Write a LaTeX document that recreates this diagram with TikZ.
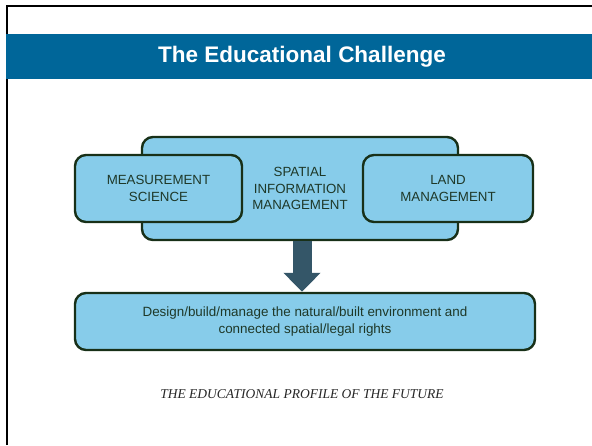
\documentclass[tikz,border=0pt]{standalone}
\usepackage{fontspec}
\setmainfont{Liberation Serif}
\newfontfamily\arialfont{Liberation Sans}
\usetikzlibrary{arrows.meta}

\definecolor{bandblue}{RGB}{0,102,153}
\definecolor{boxfill}{RGB}{135,204,234}
\definecolor{boxline}{RGB}{24,48,24}
\definecolor{boxtext}{RGB}{30,56,40}
\definecolor{arrowfill}{RGB}{52,86,104}

\begin{document}
\begin{tikzpicture}[x=1pt,y=-1pt,
	area box/.style	=	{draw=boxline,fill=boxfill,line width=2.4pt,rounded corners=11pt,
							align=center,text=boxtext,font=\arialfont\fontsize{13.3}{16.5}\selectfont},
	flow arrow/.style	=	{draw=arrowfill,line width=19pt,
							-{Triangle[width=36pt,length=19pt]}}]

	\useasboundingbox (0,0) rectangle (592,445);
	\fill[white] (0,0) rectangle (592,445);

	% frame and title band
	\draw[black,line width=2.5pt] (7,445) -- (7,6) -- (592,6);
	\fill[bandblue] (6,34) rectangle (592,79);
	\node[text=white,font=\arialfont\bfseries\fontsize{22.5}{26}\selectfont] (title) at (302,57) {The Educational Challenge};

	% the three fields
	\node[area box,minimum width=316pt,minimum height=103pt] (sim) at (300,188.5)
		{SPATIAL\\INFORMATION\\MANAGEMENT};
	\node[area box,minimum width=167pt,minimum height=67pt] (ms) at (158.5,188.5)
		{MEASUREMENT\\SCIENCE};
	\node[area box,minimum width=170pt,minimum height=67pt] (land) at (448,188.5)
		{LAND\\MANAGEMENT};

	% the outcome
	\node[area box,minimum width=460pt,minimum height=57pt,font=\arialfont\fontsize{13.4}{17}\selectfont] (out) at (305,321.5)
		{Design/build/manage the natural/built environment and\\connected spatial/legal rights};

	\draw[flow arrow] (sim.south -| 302,0) -- (out.north -| 302,0);

	\node[font=\itshape\fontsize{13.5}{16}\selectfont,text=black!85] (profile) at (302,394)
		{THE EDUCATIONAL PROFILE OF THE FUTURE};
\end{tikzpicture}
\end{document}
